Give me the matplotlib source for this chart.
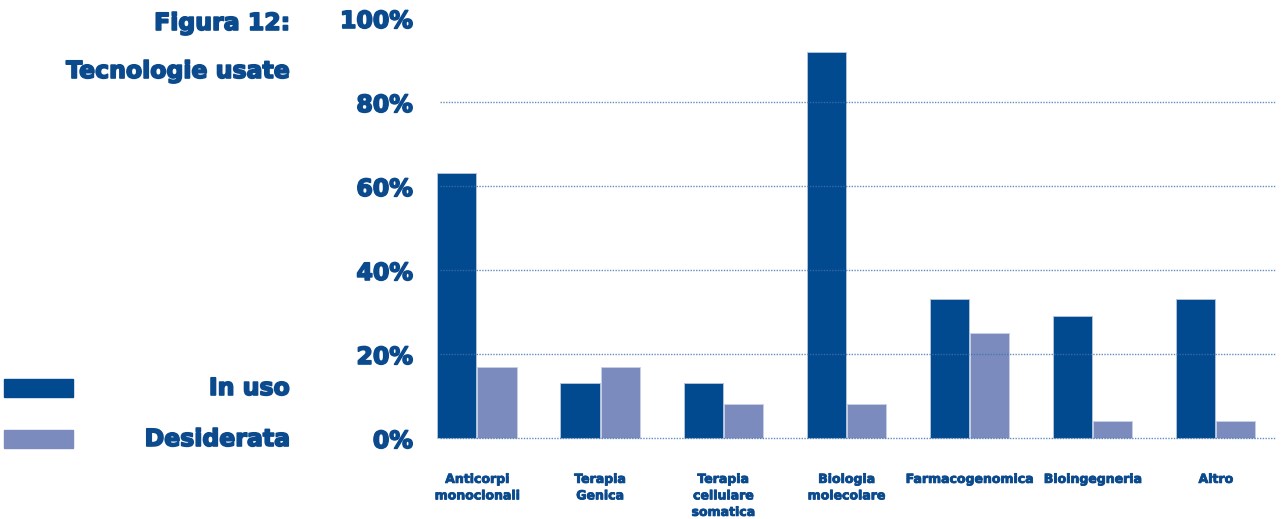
import matplotlib
matplotlib.use("Agg")
import matplotlib.pyplot as plt
import matplotlib.patheffects as pe
from matplotlib.patches import Rectangle
import numpy as np

categories = ["Anticorpi\nmonoclonali", "Terapia\nGenica", "Terapia\ncellulare\nsomatica",
              "Biologia\nmolecolare", "Farmacogenomica", "Bioingegneria", "Altro"]
in_uso = [63, 13, 13, 92, 33, 29, 33]
desiderata = [17, 17, 8, 8, 25, 4, 4]
y_ticks = [0, 20, 40, 60, 80, 100]
y_tick_labels = ["0%", "20%", "40%", "60%", "80%", "100%"]
series_labels = ["In uso", "Desiderata"]

DARK = "#024A8F"
LIGHT = "#7B8BBD"
TEXT = "#0B4A8C"
GRID = "#3F72AE"

plt.rcParams["font.family"] = ["DejaVu Sans"]
W, H = 1281, 519
fig = plt.figure(figsize=(W / 100, H / 100), dpi=100)

heavy = [pe.withStroke(linewidth=1.2, foreground=TEXT)]
heavy_small = [pe.withStroke(linewidth=0.6, foreground=TEXT)]

# axes spans pixel x 440..1276, y 18..438 (0..100%)
ax_left, ax_right = 440, 1276
ax_top, ax_bottom = 18, 438
ax = fig.add_axes([ax_left / W, 1 - ax_bottom / H, (ax_right - ax_left) / W, (ax_bottom - ax_top) / H])
ax.set_xlim(-0.3, 6.49)
ax.set_ylim(0, 100)
ax.axis("off")

x = np.arange(len(categories))
bw = 0.317
off = 0.163
ax.bar(x - off, in_uso, bw, color=DARK, edgecolor="#B9C6DE", linewidth=0.6, zorder=2, clip_on=False)
ax.bar(x + off, desiderata, bw, color=LIGHT, edgecolor="#C9D1E6", linewidth=0.6, zorder=2, clip_on=False)

for t in y_ticks[:-1]:
    ax.axhline(t, color=GRID, lw=1.0, ls=(0, (1, 1)), alpha=0.8, zorder=3, clip_on=False)

for t, lab in zip(y_ticks, y_tick_labels):
    fig.text(413 / W, 1 - (ax_bottom + 3 - (ax_bottom - ax_top) * t / 100) / H, lab,
             ha="right", va="center", fontsize=17, fontweight="bold", color=TEXT,
             path_effects=heavy)

for xi, lab in zip(x, categories):
    ax.text(xi, -8.3, lab, ha="center", va="top", fontsize=9, fontweight="bold",
            color=TEXT, linespacing=1.35, clip_on=False, path_effects=heavy_small)

fig.text(290 / W, 1 - 23 / H, "Figura 12:", ha="right", va="center", fontsize=17,
         fontweight="bold", color=TEXT, path_effects=heavy)
fig.text(290 / W, 1 - 71 / H, "Tecnologie usate", ha="right", va="center", fontsize=17,
         fontweight="bold", color=TEXT, path_effects=heavy)

for yc, col, lab in [(388, DARK, series_labels[0]), (439, LIGHT, series_labels[1])]:
    fig.patches.append(Rectangle((4 / W, 1 - (yc + 9) / H), 69 / W, 18 / H,
                                 transform=fig.transFigure, color=col))
    fig.text(290 / W, 1 - yc / H, lab, ha="right", va="center", fontsize=17,
             fontweight="bold", color=TEXT, path_effects=heavy)

fig.savefig("out.png", dpi=100)
